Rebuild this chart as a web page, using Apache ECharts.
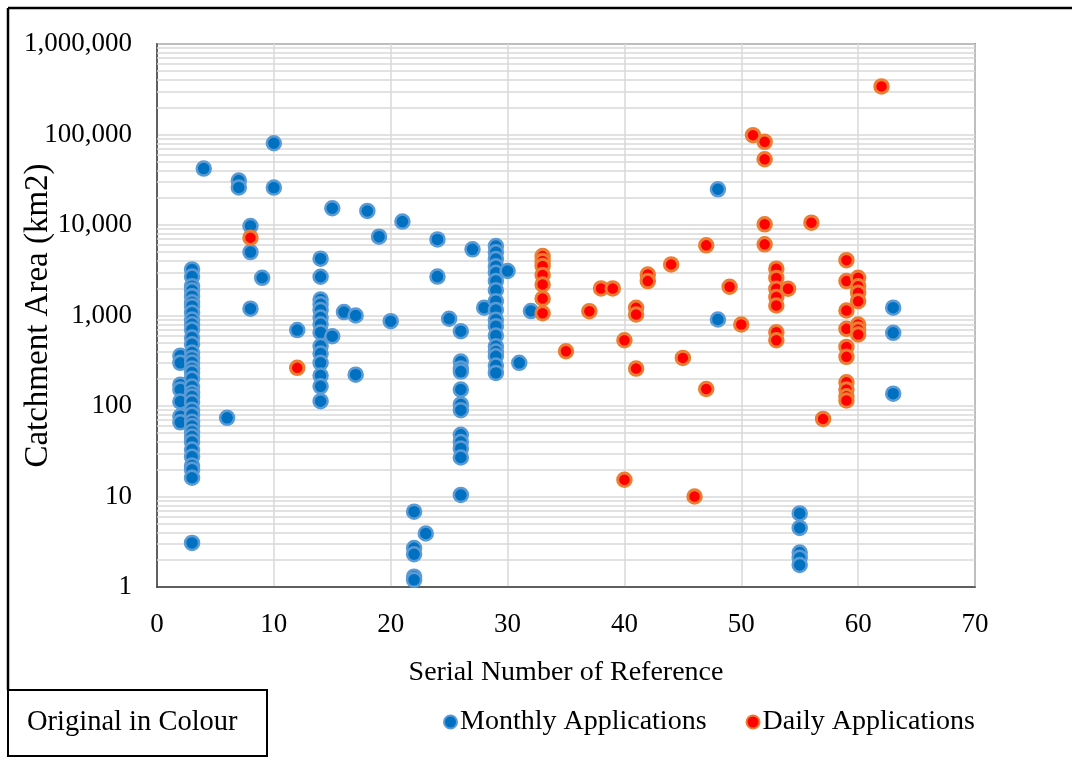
<!DOCTYPE html>
<html>
<head>
<meta charset="utf-8">
<script src="https://cdn.jsdelivr.net/npm/echarts@6/dist/echarts.min.js"></script>
<style>
html,body{margin:0;padding:0;background:#fff;}
#chart{width:1072px;height:758px;}
</style>
</head>
<body>
<div id="chart"></div>
<script>
// ---- Data ----
const seriesNames = ['Monthly Applications', 'Daily Applications'];

const monthlyApplications = [
  [2,360],[2,300],[2,172],[2,152],[2,112],[2,77],[2,66],
  [3,3230],[3,2700],[3,2110],[3,1900],[3,1636],[3,1400],[3,1268],[3,1071],[3,903],[3,800],[3,700],[3,571],[3,480],[3,389],[3,340],[3,302],[3,260],[3,234],[3,200],[3,164],[3,140],[3,127],[3,110],[3,91],[3,80],[3,67],[3,60],[3,52],[3,46],[3,40],[3,33],[3,27.5],[3,22],[3,19.7],[3,16.1],[3,3.07],
  [4,42000],
  [6,74],
  [7,31000],[7,26000],
  [8,9740],[8,5020],[8,1190],
  [9,2610],
  [10,80000],[10,25900],
  [12,690],
  [14,4250],[14,2680],[14,1500],[14,1330],[14,1150],[14,950],[14,800],[14,650],[14,460],[14,380],[14,300],[14,217],[14,165],[14,113],
  [15,15300],[15,590],
  [16,1090],
  [17,1000],[17,222],
  [18,14300],
  [19,7430],
  [20,865],
  [21,10900],
  [22,6.8],[22,2.7],[22,2.3],[22,1.3],[22,1.2],
  [23,3.9],
  [24,6930],[24,2690],
  [25,920],
  [26,670],[26,310],[26,260],[26,240],[26,152],[26,104],[26,90],[26,48],[26,40],[26,34],[26,27],[26,10.4],
  [27,5380],
  [28,1220],
  [29,5850],[29,5000],[29,4200],[29,3500],[29,2970],[29,2400],[29,1900],[29,1440],[29,1150],[29,900],[29,760],[29,600],[29,457],[29,400],[29,355],[29,280],[29,232],
  [30,3100],
  [31,300],
  [32,1120],
  [48,24800],[48,903],
  [55,6.5],[55,4.5],[55,2.4],[55,2.1],[55,1.75],
  [63,1220],[63,643],[63,137]
];

const dailyApplications = [
  [8,7250],
  [12,264],
  [33,4530],[33,4000],[33,3530],[33,2800],[33,2200],[33,1540],[33,1060],
  [35,403],
  [37,1116],
  [38,1990],
  [39,1990],
  [40,533],[40,15.3],
  [41,1217],[41,1026],[41,259],
  [42,2840],[42,2400],
  [44,3670],
  [45,340],
  [46,10],
  [47,5960],[47,154],
  [49,2080],
  [50,795],
  [51,98400],
  [52,83000],[52,53300],[52,10180],[52,6110],
  [53,3290],[53,2600],[53,1977],[53,1600],[53,1291],[53,653],[53,533],
  [54,1977],
  [56,10620],
  [57,72],
  [59,4090],[59,2400],[59,1136],[59,712],[59,450],[59,349],[59,183],[59,152],[59,128],[59,115],
  [60,2610],[60,2110],[60,1780],[60,1440],[60,795],[60,700],[60,617],
  [62,340000]
];

const xTicks = [0, 10, 20, 30, 40, 50, 60, 70];
const yDecades = [1, 10, 100, 1000, 10000, 100000, 1000000];
const minorMultipliers = [2, 3, 4, 5, 6, 7, 8, 9];

const xTitle = 'Serial Number of Reference';
const yTitle = 'Catchment Area (km2)';
const noteText = 'Original in Colour';

// minor log gridline positions (2..9 x each decade)
const minorGridValues = [];
yDecades.slice(0, -1).forEach(d => minorMultipliers.forEach(m => minorGridValues.push(m * d)));

const FONT = "'Liberation Serif', 'Times New Roman', serif";
const chart = echarts.init(document.getElementById('chart'), null, {renderer: 'canvas'});

chart.setOption({
  backgroundColor: '#ffffff',
  animation: false,
  textStyle: {fontFamily: FONT, color: '#000'},
  grid: {
    left: 157, top: 44, right: 97, bottom: 171,
    containLabel: false, outerBoundsMode: 'none',
    show: true, borderColor: '#404040', borderWidth: 1.5, backgroundColor: 'transparent'
  },
  xAxis: {
    type: 'value',
    min: xTicks[0], max: xTicks[xTicks.length - 1], interval: 10,
    name: xTitle, nameLocation: 'middle', nameGap: 72, nameMoveOverlap: false,
    nameTextStyle: {fontFamily: FONT, fontSize: 28, color: '#000'},
    axisLine: {show: true, lineStyle: {color: '#404040', width: 1.5}},
    axisTick: {show: false},
    axisLabel: {fontFamily: FONT, fontSize: 27, color: '#000', margin: 24},
    splitLine: {show: true, lineStyle: {color: '#D9D9D9', width: 1.5}}
  },
  yAxis: {
    type: 'log', logBase: 10,
    min: yDecades[0], max: yDecades[yDecades.length - 1],
    name: yTitle, nameLocation: 'middle', nameGap: 102, nameMoveOverlap: false,
    nameTextStyle: {fontFamily: FONT, fontSize: 33, color: '#000'},
    axisLine: {show: true, lineStyle: {color: '#404040', width: 1.5}},
    axisTick: {show: false},
    axisLabel: {
      fontFamily: FONT, fontSize: 27, color: '#000', margin: 25,
      formatter: v => Math.round(v).toLocaleString('en-US')
    },
    splitLine: {show: true, lineStyle: {color: '#D9D9D9', width: 1.5}}
  },
  legend: {
    data: seriesNames,
    left: 438, top: 703,
    icon: 'circle',
    itemWidth: 13, itemHeight: 13, itemGap: 39,
    textStyle: {fontFamily: FONT, fontSize: 28, color: '#000', padding: [0, 0, 0, -2]}
  },
  graphic: [
    {type: 'line', shape: {x1: 8, y1: 8, x2: 1072, y2: 8}, style: {stroke: '#000', lineWidth: 2.5}, silent: true},
    {type: 'line', shape: {x1: 8, y1: 8, x2: 8, y2: 690}, style: {stroke: '#000', lineWidth: 2.5}, silent: true},
    {type: 'rect', shape: {x: 8, y: 690, width: 259, height: 66}, style: {fill: '#fff', stroke: '#000', lineWidth: 2}, silent: true},
    {type: 'text', left: 27, top: 708, style: {text: noteText, font: "28.5px 'Liberation Serif', 'Times New Roman', serif", fill: '#000'}, silent: true}
  ],
  series: [
    {
      name: 'minor-grid',
      type: 'scatter',
      data: [],
      silent: true,
      z: 1,
      markLine: {
        silent: true, symbol: 'none', animation: false, z: 1,
        label: {show: false},
        lineStyle: {color: '#D9D9D9', width: 1.5, type: 'solid'},
        emphasis: {disabled: true},
        data: minorGridValues.map(v => ({yAxis: v}))
      }
    },
    {
      name: seriesNames[0],
      type: 'scatter',
      data: monthlyApplications,
      symbol: 'circle',
      symbolSize: 14,
      itemStyle: {color: '#0070C0', borderColor: '#5B9BD5', borderWidth: 2.5, opacity: 1},
      z: 3
    },
    {
      name: seriesNames[1],
      type: 'scatter',
      data: dailyApplications,
      symbol: 'circle',
      symbolSize: 13.5,
      itemStyle: {color: '#FF0000', borderColor: '#ED7D31', borderWidth: 3, opacity: 1},
      z: 4
    }
  ]
});
</script>
</body>
</html>
